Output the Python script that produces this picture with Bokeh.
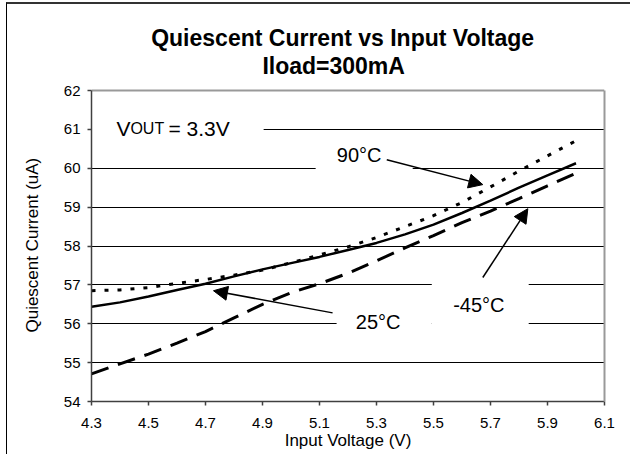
from bokeh.plotting import figure
from bokeh.models import Label, Arrow, NormalHead, FixedTicker, LinearAxis, Grid
from bokeh.embed import file_html
from bokeh.resources import INLINE

FONT = "Liberation Sans"

# ---- data ----
vin = [4.3, 4.4, 4.5, 4.6, 4.7, 4.8, 4.9, 5.0, 5.1, 5.2, 5.3, 5.4, 5.5, 5.6, 5.7, 5.8, 5.9, 6.0]
iq_25c = [56.44, 56.55, 56.70, 56.87, 57.03, 57.22, 57.40, 57.56, 57.72, 57.90, 58.08, 58.30,
          58.55, 58.85, 59.17, 59.50, 59.82, 60.13]
iq_90c = [56.85, 56.87, 56.93, 57.04, 57.14, 57.25, 57.38, 57.57, 57.77, 57.98, 58.22, 58.50,
          58.78, 59.12, 59.52, 59.93, 60.32, 60.71]
iq_m45c = [54.71, 54.97, 55.22, 55.50, 55.80, 56.15, 56.50, 56.80, 57.03, 57.30, 57.62, 57.95,
           58.27, 58.60, 58.90, 59.22, 59.55, 59.87]

x_ticks = [4.3, 4.5, 4.7, 4.9, 5.1, 5.3, 5.5, 5.7, 5.9, 6.1]
x_tick_labels = ["4.3", "4.5", "4.7", "4.9", "5.1", "5.3", "5.5", "5.7", "5.9", "6.1"]
y_ticks = [54, 55, 56, 57, 58, 59, 60, 61, 62]
grid_ticks = [55, 56, 57, 58, 59, 60, 61]
y_min, y_max = 54, 62

title_lines = ["Quiescent Current vs Input Voltage", "Iload=300mA"]
x_title = "Input Voltage (V)"
y_title = "Quiescent Current (uA)"

# the frame extends above y_max so the title can sit inside the drawing area
Y_TOP = 64.111

p = figure(width=624, height=452, x_range=(4.3, 6.1), y_range=(y_min, Y_TOP),
           output_backend="svg", toolbar_location=None,
           min_border_left=84, min_border_right=27, min_border_top=4, min_border_bottom=55)
p.styles = {"margin-left": "6px", "margin-top": "2px",
            "border-left": "1px solid #000000", "border-top": "2px solid #333333"}

p.background_fill_color = "white"
p.border_fill_color = "white"
p.outline_line_color = None

# axes
p.xaxis.ticker = FixedTicker(ticks=x_ticks)
p.xaxis.major_label_overrides = dict(zip(x_ticks, x_tick_labels))
p.yaxis.ticker = FixedTicker(ticks=y_ticks)
p.yaxis.bounds = (y_min, y_max)
for ax in (p.xaxis[0], p.yaxis[0]):
    ax.axis_line_color = "#404040"
    ax.axis_line_width = 1.5
    ax.major_tick_line_color = "#404040"
    ax.major_tick_line_width = 1.5
    ax.major_tick_in = 0
    ax.major_tick_out = 4
    ax.minor_tick_line_color = None
    ax.major_label_text_font = FONT
    ax.major_label_text_font_size = "15px"
    ax.major_label_text_color = "black"
    ax.axis_label_text_font = FONT
    ax.axis_label_text_font_size = "17px"
    ax.axis_label_text_font_style = "normal"
    ax.axis_label_text_color = "black"
p.xaxis.axis_label = x_title
# the frame is taller than the 54-62 axis; non-breaking padding keeps the
# rotated label centred on the 54-62 span
p.yaxis.axis_label = y_title + "\u00a0" * 17
p.xaxis.major_label_standoff = 12
p.xaxis.axis_label_standoff = 0
p.yaxis.major_label_standoff = 7
p.yaxis.axis_label_standoff = 19

# right edge of the plot area (grey)
right_edge = LinearAxis(bounds=(y_min, y_max), ticker=FixedTicker(ticks=[]),
                        axis_line_color="#999999", axis_line_width=2,
                        major_tick_line_color=None, minor_tick_line_color=None,
                        major_label_text_font_size="0px")
p.add_layout(right_edge, "right")

p.xgrid.grid_line_color = None
p.ygrid.ticker = FixedTicker(ticks=grid_ticks)
p.ygrid.grid_line_color = "black"
p.ygrid.grid_line_width = 1
# top edge of the plot area (grey)
p.add_layout(Grid(dimension=1, ticker=FixedTicker(ticks=[y_max]),
                  grid_line_color="#999999", grid_line_width=2))

# white text boxes hiding grid lines
box_left = [4.3, 5.0865, 5.16, 5.494]
box_right = [4.904, 5.427, 5.494, 5.834]
box_bottom = [60.82, 59.81, 55.56, 55.67]
box_top = [61.74, 60.69, 56.59, 57.16]
p.quad(left=box_left, right=box_right, bottom=box_bottom, top=box_top,
       fill_color="white", line_color=None)

# curves
p.line(vin, iq_m45c, line_color="black", line_width=3, line_dash="18 10")
p.line(vin, iq_25c, line_color="black", line_width=2.5)
p.line(vin, iq_90c, line_color="black", line_width=3, line_dash="4 9")

# annotations
def add_text(txt, x, y, size="20px", align="center", baseline="middle", style="normal"):
    p.add_layout(Label(x=x, y=y, text=txt, text_font=FONT, text_font_size=size,
                       text_font_style=style, text_color="black",
                       text_align=align, text_baseline=baseline))

# title (two centred lines above the plot area)
add_text(title_lines[0], 5.1813, 63.362, size="23px", baseline="alphabetic", style="bold")
add_text(title_lines[1], 5.1497, 62.628, size="23px", baseline="alphabetic", style="bold")

add_text("V", 4.3877, 61.02, size="21px", align="left", baseline="alphabetic")
add_text("OUT", 4.4365, 61.02, size="16px", align="left", baseline="alphabetic")
add_text("= 3.3V", 4.5700, 61.02, size="21px", align="left", baseline="alphabetic")
add_text("90°C", 5.239, 60.35)
add_text("25°C", 5.306, 56.05)
add_text("-45°C", 5.659, 56.49)

arrows = [((5.336, 60.22), (5.673, 59.58)),
          ((5.673, 57.19), (5.831, 58.96)),
          ((5.146, 56.28), (4.728, 56.85))]
for (x0, y0), (x1, y1) in arrows:
    p.add_layout(Arrow(x_start=x0, y_start=y0, x_end=x1, y_end=y1,
                       line_color="black", line_width=1.5,
                       end=NormalHead(size=14, fill_color="black", line_color="black")))

open("out.html", "w").write(file_html(p, INLINE))
